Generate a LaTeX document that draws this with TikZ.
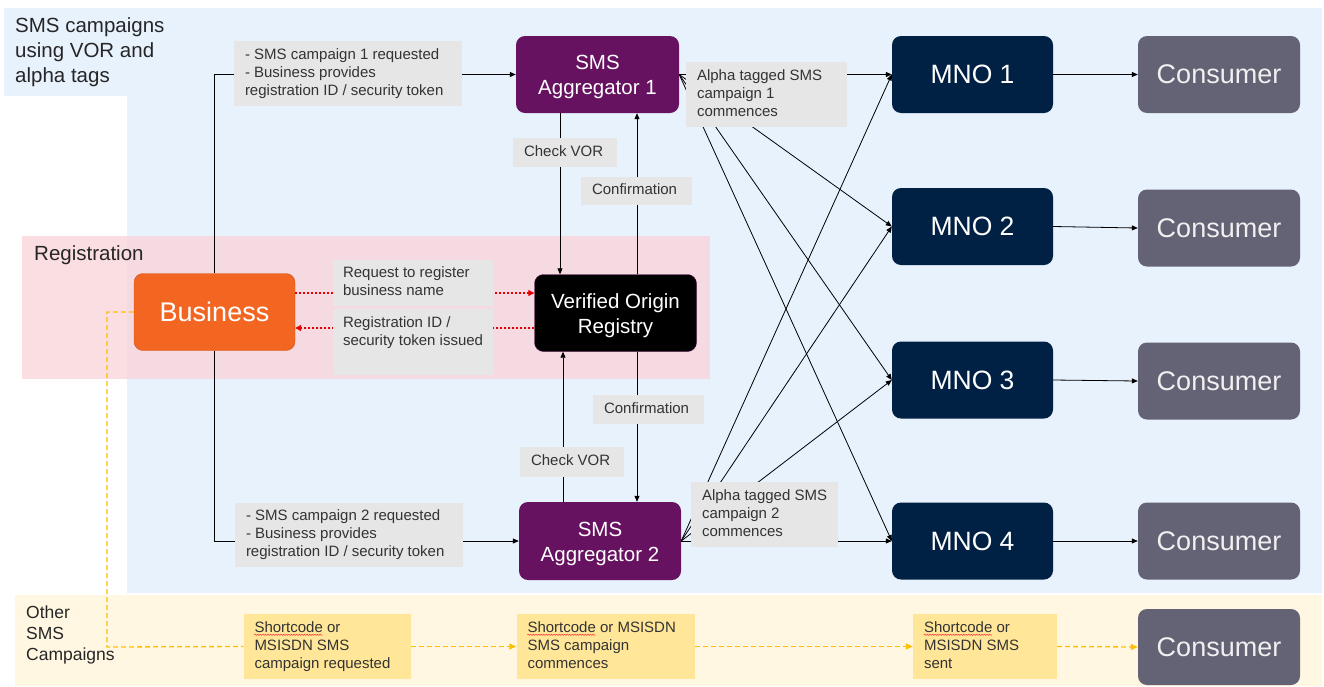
\documentclass[tikz,border=0pt]{standalone}
\usepackage{fontspec}
\setmainfont{Liberation Sans}
\usetikzlibrary{arrows.meta,decorations.pathmorphing}
\definecolor{bluebg}{RGB}{232,242,253}
\definecolor{pinkbg}{RGB}{249,214,218}
\definecolor{yelbg}{RGB}{255,247,225}
\definecolor{lgray}{RGB}{230,230,230}
\definecolor{ylab}{RGB}{255,230,153}
\definecolor{orng}{RGB}{242,102,34}
\definecolor{purp}{RGB}{102,18,96}
\definecolor{navy}{RGB}{0,33,68}
\definecolor{cgray}{RGB}{100,98,117}
\definecolor{txt}{RGB}{51,51,51}
\definecolor{ydsh}{RGB}{255,192,0}
\definecolor{rdot}{RGB}{232,0,0}
\newcommand\myfs[2]{\fontsize{#1}{#2}\selectfont}
\newcommand\lbltext[2]{\makebox[#1][l]{\begin{tabular}{@{}l@{}}#2\end{tabular}}}
\begin{document}
\begin{tikzpicture}[x=1pt,y=-1pt,
  blk/.style={rounded corners=9pt, text=white, align=center, inner sep=0pt},
  lbl/.style={fill=lgray, text=txt, inner sep=0pt, font=\myfs{15}{18}},
  ylbl/.style={fill=ylab, text=txt, inner sep=0pt, font=\myfs{15}{18}},
  arr/.style={-{Triangle[length=6pt,width=5pt]}, line width=0.8pt, draw=black},
  rarr/.style={-{Triangle[length=6pt,width=6pt]}, line width=1.2pt, draw=rdot, dash pattern=on 2pt off 2pt},
  yarr/.style={-{Triangle[length=7pt,width=6pt]}, line width=1.3pt, draw=ydsh, dash pattern=on 5pt off 3pt},
  yline/.style={line width=1.3pt, draw=ydsh, dash pattern=on 5pt off 3pt},
  squig/.style={draw=red!80, line width=0.5pt, decorate, decoration={snake, amplitude=0.6pt, segment length=2.6pt}}
]
\useasboundingbox (0,0) rectangle (1324,686);
\fill[white] (0,0) rectangle (1324,686);
% backgrounds
\fill[bluebg] (4,8) -- (1322,8) -- (1322,593) -- (127,593) -- (127,96) -- (4,96) -- cycle;
\fill[yelbg] (15,595) rectangle (1322,686);
\fill[pinkbg, opacity=0.8] (22,236) rectangle (710,379);

% section titles
\node[anchor=north west, align=left, inner sep=0pt, font=\myfs{20.5}{25}, text=black!85] (title) at (15,17) {SMS campaigns\\using VOR and\\alpha tags};
\node[anchor=west, inner sep=0pt, font=\myfs{20.5}{25}, text=black!85] (reg) at (34,255) {Registration};
\node[anchor=north west, align=left, inner sep=0pt, font=\myfs{17.5}{21}, text=black!85] (oth) at (26,606) {Other\\SMS\\Campaigns};

% main nodes
\node[blk, fill=orng, draw=orng!85!black, minimum width=161pt, minimum height=77pt, font=\myfs{27}{32}] (bus) at (214.5,312) {Business};
\node[blk, fill=black, draw=purp, minimum width=162pt, minimum height=77pt, font=\myfs{20.5}{25}] (vor) at (615.5,313) {\rule{0pt}{20pt}Verified Origin\\Registry};
\node[blk, fill=purp, minimum width=163pt, minimum height=77pt, font=\myfs{20.5}{25}] (agg1) at (597.5,74.5) {\rule{0pt}{20pt}SMS\\Aggregator 1};
\node[blk, fill=purp, minimum width=162pt, minimum height=78pt, font=\myfs{20.5}{25}] (agg2) at (600,541) {\rule{0pt}{20pt}SMS\\Aggregator 2};

\node[blk, fill=navy, minimum width=161pt, minimum height=77pt, font=\myfs{26.5}{30}] (mno1) at (972.5,74.5) {MNO 1};
\node[blk, fill=navy, minimum width=161pt, minimum height=77pt, font=\myfs{26.5}{30}] (mno2) at (972.5,226.5) {MNO 2};
\node[blk, fill=navy, minimum width=161pt, minimum height=77pt, font=\myfs{26.5}{30}] (mno3) at (972.5,380) {MNO 3};
\node[blk, fill=navy, minimum width=161pt, minimum height=77pt, font=\myfs{26.5}{30}] (mno4) at (972.5,541) {MNO 4};

\node[blk, fill=cgray, text=white!94!black, minimum width=162pt, minimum height=77pt, font=\myfs{27}{30}] (con1) at (1219,74.5) {Consumer};
\node[blk, fill=cgray, text=white!94!black, minimum width=162pt, minimum height=77pt, font=\myfs{27}{30}] (con2) at (1219,228) {Consumer};
\node[blk, fill=cgray, text=white!94!black, minimum width=162pt, minimum height=77pt, font=\myfs{27}{30}] (con3) at (1219,381) {Consumer};
\node[blk, fill=cgray, text=white!94!black, minimum width=162pt, minimum height=77pt, font=\myfs{27}{30}] (con4) at (1219,541) {Consumer};
\node[blk, fill=cgray, text=white!94!black, minimum width=162pt, minimum height=76pt, font=\myfs{27}{30}] (con5) at (1219,647) {Consumer};

% yellow labels
\node[ylbl, minimum width=167pt, minimum height=65pt] (y1) at (327,646.5) {\lbltext{145pt}{Shortcode or\\MSISDN SMS\\campaign requested}};
\node[ylbl, minimum width=178pt, minimum height=65pt] (y2) at (605.5,646.5) {\lbltext{156pt}{Shortcode or MSISDN\\SMS campaign\\commences}};
\node[ylbl, minimum width=144pt, minimum height=65pt] (y3) at (985,646.5) {\lbltext{122pt}{Shortcode or\\MSISDN SMS\\sent}};

% helper coordinates
\coordinate (xa) at (560,0);
\coordinate (xb) at (637,0);
\coordinate (xc) at (563,0);
\coordinate (ya) at (0,293);
\coordinate (yb) at (0,328);
\coordinate (dk) at (107,647);

% business to aggregators
\draw[arr] (bus.north) |- (agg1.west);
\draw[arr] (bus.south) |- (agg2.west);

% VOR checks
\draw[arr] (agg1.south -| xa) -- (vor.north -| xa);
\draw[arr] (vor.north -| xb) -- (agg1.south -| xb);
\draw[arr] (vor.south -| xb) -- (agg2.north -| xb);
\draw[arr] (agg2.north -| xc) -- (vor.south -| xc);

% registration
\draw[rarr] (bus.east |- ya) -- (vor.west |- ya);
\draw[rarr] (vor.west |- yb) -- (bus.east |- yb);

% aggregators to MNOs
\foreach \m in {mno1,mno2,mno3,mno4}{
  \draw[arr] (agg1.east) -- (\m.west);
  \draw[arr] (agg2.east) -- (\m.west);
}
% MNOs to consumers
\draw[arr] (mno1.east) -- (con1.west);
\draw[arr] (mno2.east) -- (con2.west);
\draw[arr] (mno3.east) -- (con3.west);
\draw[arr] (mno4.east) -- (con4.west);

% other campaigns
\draw[yline] (bus.west) -| (dk) -- (y1.west);
\draw[yarr] (y1.east) -- (y2.west);
\draw[yarr] (y2.east) -- (y3.west);
\draw[yarr] (y3.east) -- (con5.west);

% grey labels
\node[lbl, minimum width=228pt, minimum height=65pt] (l1) at (348,73.5) {\lbltext{206pt}{- SMS campaign 1 requested\\- Business provides\\registration ID / security token}};
\node[lbl, minimum width=228pt, minimum height=64pt] (l2) at (349,535) {\lbltext{206pt}{- SMS campaign 2 requested\\- Business provides\\registration ID / security token}};
\node[lbl, minimum width=104pt, minimum height=29pt] (cv1) at (565,152.5) {\lbltext{82pt}{Check VOR}};
\node[lbl, minimum width=111pt, minimum height=28pt] (cf1) at (636.5,191) {\lbltext{89pt}{Confirmation}};
\node[lbl, minimum width=111pt, minimum height=29pt] (cf2) at (648.5,409.5) {\lbltext{89pt}{Confirmation}};
\node[lbl, minimum width=104pt, minimum height=30pt] (cv2) at (572,462) {\lbltext{82pt}{Check VOR}};
\node[lbl, minimum width=160pt, minimum height=46pt] (rq) at (413,282.5) {\lbltext{140pt}{Request to register\\business name}};
\node[lbl, minimum width=160pt, minimum height=66pt] (rid) at (413,342) {\lbltext{140pt}{Registration ID /\\security token issued\\\mbox{}}};
\node[lbl, minimum width=161pt, minimum height=65pt] (al1) at (766.5,94.5) {\lbltext{139pt}{Alpha tagged SMS\\campaign 1\\commences}};
\node[lbl, minimum width=147pt, minimum height=65pt] (al2) at (764.5,514.5) {\lbltext{125pt}{Alpha tagged SMS\\campaign 2\\commences}};

% spell-check squiggles
\draw[squig] ([xshift=11pt,yshift=-21pt]y1.north west) -- ++(68,0);
\draw[squig] ([xshift=11pt,yshift=-21pt]y2.north west) -- ++(68,0);
\draw[squig] ([xshift=11pt,yshift=-21pt]y3.north west) -- ++(68,0);
\end{tikzpicture}
\end{document}
